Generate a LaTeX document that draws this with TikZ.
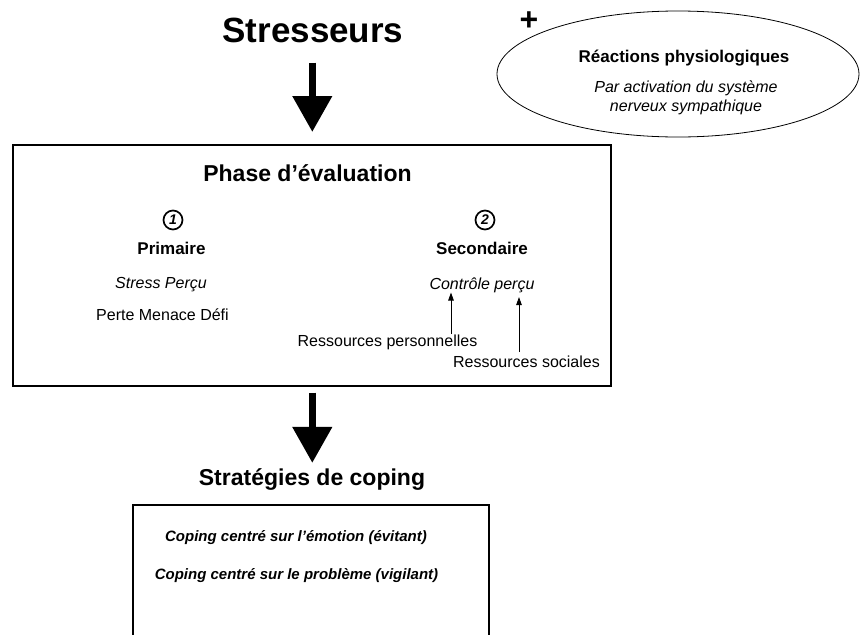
\documentclass[tikz,border=0pt]{standalone}
\usepackage{fontspec}
\setmainfont{Liberation Sans}
\usetikzlibrary{arrows.meta, positioning, shapes.geometric}

\begin{document}
\begin{tikzpicture}[x=1pt, y=-1pt,
    plain/.style={inner sep=0pt, anchor=base, font=\fontsize{16}{19}\selectfont},
    itl/.style={plain, font=\itshape\fontsize{16}{19}\selectfont},
    head/.style={plain, font=\bfseries\fontsize{17}{20}\selectfont},
    title/.style={plain, font=\bfseries\fontsize{23}{27}\selectfont},
    bolditl/.style={plain, font=\bfseries\itshape\fontsize{15}{18}\selectfont},
    bigarrow/.style={line width=7.5pt, -{Triangle[width=38pt, length=36pt]}},
    smallarrow/.style={line width=0.9pt, -{Triangle[width=5.5pt, length=8pt]}},
    numcircle/.style={circle, draw, line width=1.7pt, minimum size=19pt, inner sep=0pt,
        font=\bfseries\itshape\fontsize{14}{14}\selectfont}]
    \useasboundingbox (0,0) rectangle (863,635);

    % Stresseurs
    \node[plain, font=\bfseries\fontsize{35}{40}\selectfont] (stress) at (313,42) {Stresseurs};

    % Reactions physiologiques
    \node[font=\bfseries\fontsize{32}{36}\selectfont, inner sep=0pt] (plus) at (529,21) {+};
    \node[ellipse, draw, line width=0.8pt, minimum width=362pt, minimum height=126pt] (reac) at (678,74) {};
    \node[head] (reactit) at (684,62) {Réactions physiologiques};
    \node[itl] (reac1) at (686,92.5) {Par activation du système};
    \node[itl] (reac2) at (686,111.5) {nerveux sympathique};

    % Phase d'evaluation
    \node[draw, line width=2pt, minimum width=598pt, minimum height=241pt, inner sep=0pt] (evalbox) at (312.3,265) {};
    \node[title] (phase) at (307.5,181.7) {Phase d’évaluation};
    \draw[bigarrow, shorten <=20pt, shorten >=11.5pt] (stress.south -| evalbox.north) -- (evalbox.north);

    % Primaire
    \node[numcircle] (one) at (173,220) {1};
    \node[head] (prim) at (171.5,254) {Primaire};
    \node[itl] (stresspercu) at (161,288) {Stress Perçu};
    \node[plain] (pmd) at (162.5,320) {Perte Menace Défi};

    % Secondaire
    \node[numcircle] (two) at (485,220) {2};
    \node[head] (sec) at (482,254) {Secondaire};
    \node[itl] (controle) at (482,289) {Contrôle perçu};
    \node[plain] (perso) at (387.5,346) {Ressources personnelles};
    \node[plain] (social) at (526.5,367) {Ressources sociales};
    \coordinate (pa) at (451,0);
    \coordinate (pb) at (519,0);
    \draw[smallarrow] (perso.north -| pa) -- (controle.south -| pa);
    \draw[smallarrow, shorten <=3pt, shorten >=4.5pt] (social.north -| pb) -- (controle.south -| pb);

    % Strategies de coping
    \node[title] (strat) at (312,485) {Stratégies de coping};
    \draw[bigarrow, shorten <=6pt, shorten >=5pt] (evalbox.south) -- (evalbox.south |- strat.north);
    \draw[line width=2pt] (133,640) |- (489,505) -- (489,640);
    \node[bolditl] (emo) at (296,541) {Coping centré sur l’émotion (évitant)};
    \node[bolditl] (prob) at (296.5,579) {Coping centré sur le problème (vigilant)};
\end{tikzpicture}
\end{document}
